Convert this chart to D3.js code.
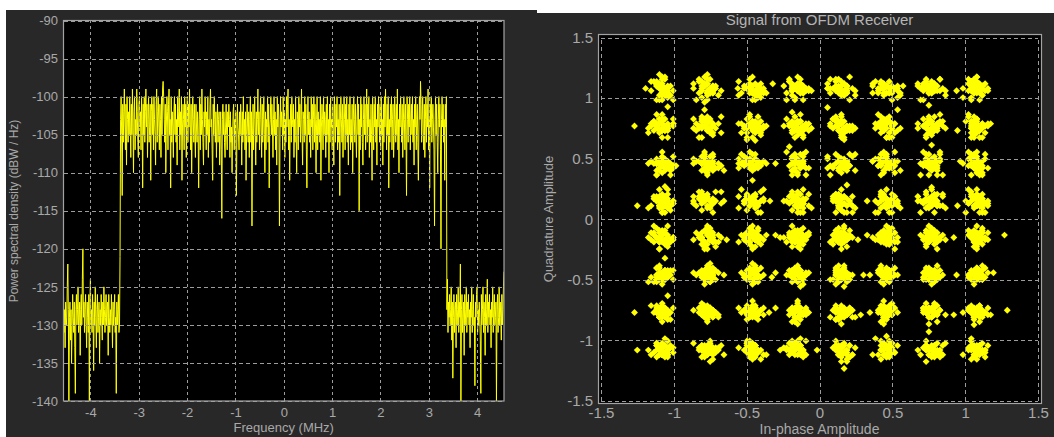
<!DOCTYPE html>
<html>
<head>
<meta charset="utf-8">
<script src="https://cdn.jsdelivr.net/npm/d3@7"></script>
<style>
  html, body { margin: 0; padding: 0; background: #ffffff; }
  svg { display: block; font-family: "Liberation Sans", Arial, sans-serif; }
</style>
</head>
<body>
<svg id="chart" width="1054" height="437"></svg>
<script>
// ---------- Spectrum analyzer: power spectral density (dBW/Hz) ----------
// Uniform frequency grid across the span: bins below the band, in the band, above the band
const freqSpanMHz = [-4.556, 4.556];
const psdLowBand = [
  -126, -131, -128, -133, -127, -129, -130, -125, -122, -128, -140, -129, -127, -132, -128, -135, -130, -126, -129, -131,
  -127, -133, -139, -128, -126, -130, -128, -125, -131, -129, -127, -134, -128, -126, -130, -124, -120, -129, -127, -131,
  -128, -126, -130, -133, -127, -129, -131, -126, -140, -127, -124, -130, -128, -131, -126, -129, -136, -127, -130, -125,
  -129, -133, -128, -126, -131, -129, -127, -135, -128, -130, -126, -129, -132, -127, -130, -125, -128, -131, -129, -126,
  -130, -128, -127, -134, -126, -129, -131, -128, -130, -126, -129, -133, -127, -130, -128, -126, -131, -129, -139, -127,
  -130, -128, -126, -131, -130, -121
];
const psdInBand = [
  -103, -100, -105, -113, -101, -106, -102, -99, -104, -107, -101, -109, -100, -103, -106, -102, -105, -100, -104, -108,
  -101, -105, -99, -104, -110, -102, -100, -107, -103, -105, -99, -102, -106, -108, -101, -100, -104, -102, -107, -100,
  -103, -112, -101, -105, -100, -106, -102, -99, -104, -101, -108, -103, -100, -106, -104, -101, -111, -102, -100, -105,
  -101, -107, -100, -103, -105, -109, -101, -99, -106, -102, -100, -104, -107, -101, -103, -108, -100, -105, -99, -98,
  -100, -103, -106, -101, -110, -104, -100, -102, -107, -101, -99, -105, -103, -112, -100, -106, -102, -104, -108, -102,
  -100, -105, -101, -106, -103, -109, -100, -104, -102, -99, -107, -102, -105, -100, -111, -104, -101, -103, -107, -100,
  -104, -101, -108, -102, -100, -106, -101, -104, -99, -103, -107, -101, -110, -104, -100, -103, -106, -101, -105, -108,
  -101, -104, -106, -102, -105, -112, -103, -100, -107, -101, -105, -99, -103, -106, -109, -102, -104, -100, -103, -107,
  -102, -105, -100, -108, -103, -106, -101, -99, -104, -103, -107, -111, -101, -105, -100, -103, -106, -102, -108, -104,
  -101, -106, -103, -102, -109, -105, -102, -107, -116, -103, -101, -105, -102, -106, -108, -104, -101, -105, -107, -102,
  -104, -101, -103, -108, -102, -106, -104, -110, -105, -102, -101, -107, -103, -105, -102, -113, -106, -101, -104, -105,
  -107, -102, -105, -101, -104, -109, -102, -106, -100, -105, -103, -107, -102, -111, -105, -101, -104, -106, -102, -108,
  -103, -100, -106, -102, -117, -105, -101, -107, -103, -100, -104, -109, -102, -106, -103, -99, -105, -102, -107, -103,
  -100, -104, -108, -101, -106, -103, -100, -105, -110, -102, -107, -103, -104, -100, -106, -101, -112, -104, -103, -100,
  -105, -101, -104, -108, -103, -100, -105, -102, -107, -103, -109, -100, -104, -101, -103, -117, -106, -100, -104, -102,
  -103, -107, -100, -105, -102, -108, -103, -106, -100, -104, -101, -99, -107, -103, -111, -104, -101, -106, -100, -103,
  -104, -101, -108, -103, -106, -100, -105, -110, -102, -103, -107, -100, -104, -101, -106, -103, -99, -105, -109, -102,
  -103, -106, -100, -105, -101, -107, -112, -103, -100, -105, -102, -106, -103, -108, -100, -104, -101, -107, -103, -100,
  -106, -101, -104, -110, -103, -100, -107, -102, -105, -103, -106, -100, -111, -104, -101, -103, -107, -100, -105, -102,
  -103, -108, -101, -106, -100, -105, -103, -110, -101, -106, -100, -104, -103, -107, -101, -105, -109, -100, -103, -106,
  -101, -104, -100, -107, -103, -106, -101, -113, -104, -100, -103, -106, -101, -108, -104, -100, -103, -107, -101, -105,
  -100, -106, -103, -109, -101, -105, -100, -107, -103, -106, -101, -110, -104, -100, -103, -106, -101, -105, -108, -103,
  -100, -105, -101, -115, -103, -107, -100, -104, -101, -106, -109, -103, -100, -105, -101, -107, -103, -99, -106, -101,
  -104, -100, -108, -103, -106, -101, -105, -111, -100, -103, -107, -101, -104, -100, -106, -103, -109, -101, -104, -100,
  -103, -106, -101, -107, -100, -105, -103, -109, -101, -106, -100, -104, -99, -103, -107, -101, -105, -100, -112, -103,
  -106, -101, -104, -100, -107, -103, -101, -108, -105, -100, -103, -106, -101, -105, -99, -107, -103, -110, -101, -104,
  -100, -103, -106, -101, -108, -104, -100, -103, -107, -101, -105, -113, -100, -103, -106, -101, -104, -100, -107, -103,
  -101, -105, -100, -106, -103, -109, -101, -104, -100, -107, -103, -101, -106, -111, -104, -100, -103, -98, -101, -106,
  -103, -100, -105, -107, -101, -108, -103, -100, -106, -101, -104, -99, -107, -103, -112, -101, -104, -100, -106, -103,
  -101, -104, -107, -117, -103, -100, -105, -101, -106, -110, -103, -100, -104, -101, -107, -120, -103, -100, -104, -101,
  -106, -103, -111, -101, -104, -100
];
const psdHighBand = [
  -128, -124, -131, -127, -129, -126, -130, -128, -125, -132, -127, -137, -129, -126, -131, -128, -127, -133, -126, -130,
  -128, -125, -131, -127, -129, -122, -140, -128, -126, -131, -129, -127, -134, -126, -130, -128, -125, -131, -127, -129,
  -126, -130, -128, -133, -127, -129, -125, -131, -128, -126, -130, -129, -138, -127, -129, -126, -125, -131, -128, -130,
  -127, -129, -132, -139, -126, -130, -128, -125, -131, -127, -129, -134, -126, -130, -128, -124, -131, -127, -129, -126,
  -130, -128, -133, -127, -129, -125, -131, -128, -126, -130, -129, -127, -140, -128, -126, -131, -129, -125, -130, -127,
  -129, -132, -126, -130, -128, -125, -123
];
const psdTicksX = [-4, -3, -2, -1, 0, 1, 2, 3, 4];
const psdTicksY = [-90, -95, -100, -105, -110, -115, -120, -125, -130, -135, -140];

// ---------- Constellation: 64-QAM symbols after the OFDM receiver ----------
const colLevels = [-1.08, -0.77, -0.46, -0.15, 0.15, 0.46, 0.77, 1.08];
const rowLevels = [1.08, 0.77, 0.46, 0.15, -0.15, -0.46, -0.77, -1.08];
const constTicks = [-1.5, -1, -0.5, 0, 0.5, 1, 1.5];
// Received symbols around each ideal point: every letter pair is one (I, Q) offset,
// counted in steps of offsetStep, with "m" meaning zero.
const offsetStep = 0.019;
const rxRowP108 = [
  "lnpjmkqhoiknmrljgmpnkolhnqmkjpilmonrkhmjqlonkpmhlsnjmkoeipmq" + "lmnkomlnkolmnmkonlmkmnolknmlokmnlomknmlo",
  "okmhlnjqpmkirlnmhojkpnmqlgkmonjplrmkihnqolmjkpmsnlhmokqjnlxm" + "nkmolnmkloknmlonmkolnmklomnklonmklmonkln",
  "jmolnkhpqmlnikmrojlmpknhqlomjnkmpilqnomkhjlnpmrkoimlnjqkmhpo" + "mlknomnlkmonlkmnolmkonlmknolmkmnlokmnlom",
  "nkmljqohpmknlimroknmjplhnqmokljpmnikrlmohnkjqmplonkmihqlnmdo" + "kolmnkmlonkmlnomklnomlkmnoklmnoklmnokmln",
  "mjnlokphqmkmnlrjimonkplqhmnjklomprnkiqmlhonjmpkqlmnoikjmrlhm" + "onmklmnolkmnolkmnlomknolmkmlonkmlnokmlnk",
  "kpmnljohqmnkiplmrjonmkqlhnpmjkolnmqirklmhonpjmlkqnomhkjlpmsn" + "mnolkmlnokmnlokmlnomkolnmkolmnkolmnklomn",
  "onlkmpjhqmnlkoimrjnmplkqhomnjlkmpqrlnmihkojnmlpqkmhnjolmkpvl" + "lnmokmnlkomnlkmonlkmnolkmnolmknolmkonlmk",
  "lmnkpojqhmnlkimrojmnplkhqmnojlkpmrqlnmhiknojmplqkmnhjolmkpnl" + "nmlkonmlkonmklonmklomnklomnlkomnlkmonlkm"
];
const rxRowP077 = [
  "mpknljohqmlnkrimjonpmkhlqnmojklpmrinkmhjolqnmpkljomhnkqpmlcm" + "kmnlolmkonmlnkomlkjnmolnkmlpmnokmlnmolkn",
  "qnjlmkoihplmnkrjomlpnkmqhlinojmkplrqmnkhlojmnpkqlmjhonikmplt" + "mlonkmnlkomlnjkmonlmkpnolmkonlmnklomnlkm",
  "nokljmpiqlmmhnkpoknjrmlqinmhjlpookmlqmijnnkhpllrmokgnmpjoqml" + "onlmkmolnkmlonkmnlomkjlnmokmnlpkomlnmkol",
  "kkmonlipjmqnlhomnrkjpmmllqoinjhmkopnrlmiqkjnlmohpmkslnjdmokm" + "lkmnomlknomklnmolkmnolkmnoplmknolmkmnlok",
  "molkinqmjpkolnmhrlnjkqpmlomingkpjlmrnhqkomlnjpimlnokmqhulnmk" + "mnlkomnlpkmonlkmolnkmjnolmkmnlokmnlomkln",
  "lplmnjkoqkmhinomrlpjkmnqlkohmnjrmpiljnkqommhlopnkjmlqtnhkmln" + "nolmkmlnokmnlkomlnkmonlkjmnoklmnolkmpnlm",
  "omnkljpnqmkhlomiprnklqmjoknmhlpojmnqkirlmkonjpmlhnqokmlvjmln" + "klmonmlkonmlknomlkmnolkmnlomknlpmoknmlon",
  "nlmmkopjlqnhmkiornmpkljqohmnlkpmjrqnlimokhmpnlkjqmonlhpmfknl" + "mnkolmknolmnklomnkmlonkmlonkmjlonkmnlomk"
];
const rxRowP046 = [
  "lmnoqkjmphlnokmirlnjpmqlkhomnkljqpmoinmrkhlnpjomqlkmnchmplmn" + "nmlkomnlkomplnkmolnkmlonkmlnomkjlnmokmln",
  "mnljpkoqinmhlrkmjnoplqmkinhmojlpnkqmrlmjhokplnmiqkonlmsjmlnk" + "lkomnmlonkmlnkomlnkmolnpkmlonmkjolnmkmln",
  "kolmqnjlpmhknoimlrjpnkmqolhmjnkoplrmiqnlkmhojpnqmlkonwmlimnk" + "omnlkmnolkmnlokmnlokpmnlomknlomjknlmonkm",
  "nmpkljoqmhlnkpirmojlnqkmpholnmkjlqpronmikhljmnopqklmemnkolm" + "mkonlmnkolmnkolmnkjolmnkolpmnlkomnlkmonl",
  "ljmnokqpmilnhkmorjlpnmkqilhonmjkplrqomnkihmlojpqnlmkonhpmnl" + "knlmomlnkomlknmolnkmolnkmjlonmkplnomkmln",
  "oknmljpimqkhnlomrjmkpnlqiohnmkjlprmoqnlikmhnjoplkqmnlrkmolm" + "nmoklmnlokmnlkomlnkmpolnkmolnkmjlonkmnlo",
  "mlpnkojmqhlnokimjrnplmkqohnlmjkoprlqmnihkmojlnpqkmlhnomuklm" + "lmnkomlnkpomnlkmolnkmjlonmkolnmkolnmkmol",
  "nmkljopqhmnlokmijrmpnlkqohmnjlkpmrlqnmoikhlmnjpoqkmlnhgnmkl" + "onklmnmolkmnlokmnlpkomnlkmjonlkmonlmkmno"
];
const rxRowP015 = [
  "mkljnopimhqlnkmjorlmnhpkqmlojnikmplrqmnkhjolmnpkqlmhojdkmln" + "mlnkonmlkopmnlkomnlkmjonlkmonlkmnolmkmnl",
  "onlmkpjqhlnmkiomrljnpmkqohlnmjkpolrqmnikhmlonjpqkmlnhosmklm" + "knmolmnklomnkjolmnkolmpnkolmnkolmnkmolnm",
  "lmkonjphqnlmkoirjmnplkqmohnljmkpqrolnmkihjmnolpqkmlnhomvnkm" + "nolkmmlnokmnlokpmnlkomnjlkomnlkmonlkmnlo",
  "nkmlojqphmnlkoimrjnpmlkqohnmjlkpormqlnkimhjolnmpqklmnhcmoln" + "lmkonmnlkomnlkmolpnkmolnkmjolnkmnlokmnlm",
  "kmnljoqhpmlnokmirjmnplqkohmnljkpmrqolnmikhjmnolpqklmnhotlmk" + "omnlkmlonkmnolkmnlokpmnlokmjnlomknlmokmn",
  "mlnkpojhqmnlokimrjnmplkqohlnmjkpmrqlonmkihjlmnopqkmlnhfmnlo" + "mkolnmnlkomnlkjomnlkomnlpkmonlkmnlomkmln",
  "nomlkjqphmlnokimrjnpmlkqhonmljkpmrqolnmkihjlnmopqkmlnhmslkn" + "nlmokmnlkomnlpkmonlkmnolkjmnolmknolmkmno",
  "lnmkojphqmnlokimjrmnplkqohmnljkpmrqlonmkihjlnmopqkmlnhfkomn" + "kmnolmlnkomnlkomnjlkmonlkmpnolkmnlomkmln"
];
const rxRowM015 = [
  "pkmlnjoiqmlhnkomjrlpmnkqiolhmnjkplorqmnkilhmjonpqlkmndlmomj" + "nmlokmnlkomnlkmojnlkmonlkmpnolkmnlomkmln",
  "noklmqpilhonrmkjnlmpqkiojnmrlioknpkmhlnqmjoolkjmqnmhtlkonmlp" + "lkmonmnlokmnlkomjnlkmonlpkmnolkmnlomkmnl",
  "lmjnokmpqlnikommpjinlqnlrnkkmhopjlnoljpmmrknhkolnnmilowmkmoq" + "monlkmlnkopmnlkomnlkjmonlkmnolkmnlomkmln",
  "monjklnplkqojmmipnnlkromloiknhmpqnkkoqlmmljonnhmojlpenmlplki" + "knlmomnlkomnlkpmonlkmnolkmjnolmknolmkmno",
  "kmnomkollqjjpnnmmhkponllqmmoiknqlnoiklmmppjlnklomjomslknnrlk" + "olnmkmnlkomnlkmojnlkmonlkmnolkpmnlomkmln",
  "olmnkknqlmpojlmjnnqklpkmmrooilnklnphmmkonjjnoqllmkhmnpqmfnml" + "mnlkomlnkomnlkmonjlkmonlkmnopkmnlomkmnlo",
  "nmlkoomlkppmnjlnjlmqokqnkinommlrplinomkmnpkllorlmnjmohnnumll" + "lmnokmnlkomnlkmonlkjmonlkmnolkmnlompkmln",
  "mkknnloplmoqmjknqljpnmmkooliminnlpmhplkmoonkjnmrlmqonlwnkmmj" + "nkmlomnlkomnlkmonlkmojnlkmnolkmnlomkpmnl"
];
const rxRowM046 = [
  "lnnkmmookllppmjjmnnlqokkomlqnnilmiomnomnqkkpllnmhjpolnodmmml" + "mlnkomnlkpomnlkmonlkmnolkjmnolmknolmkmno",
  "nmmkloolknnppkmolljnommqnjqnkmlinomlopimmnlkpoklnrmmhnoksmlo" + "onmlkmnlkomnlkmonlkmnjolkmnolkmpnlomkmln",
  "moomklnnlpplmknqjmloojmnqmkknolmmrolinnmmilnppkmnkoojlmntllm" + "kmnolmnlkomnlkmonplkmnolkmnjolmknolmkmno",
  "knmonllkompnmmjonklpokmjqnklnmlomqoilnimnnlkpmkonhmpjmolennm" + "nlkmomnlkomnlkmonlkmnolkpmnolmkjnolmkmnl",
  "onlmmkkpnlpmmolnjknnomlqkiqmnlmnkoljomnpmmiknqollmpkmnnhumml" + "lomnkmnlkomnlkmonlkmnolkmnojlmknolmkpmno",
  "mmnkkoollnmppmlknnjommonkqnlliqmmolmonnjkmpplnmkoolljnnmgmmo" + "mknolmnlkomnlkmonlkjmnolkmnolmkpnolmkmnl",
  "lnomnkmmkponpllmmonjjnoqmlkknnloqmmioknmlpmnkoolnlmmjkonvmlm" + "nmolkmnlkomnlkmonlkmnolkmnolmknojlmkmnpo",
  "nlmolmokknnmpplkmnoqjlnmmokklnqnomlimpnklommoknnjmplmloosnkm" + "lknmomnlkomnlkmonlkmnolkmnolmpknolmkjmno"
];
const rxRowM077 = [
  "mnlkomnlknmppmlonkjmmqolknnnmlqolkmionnmkplmmoojlnipnmcmmnlo" + "omlnkmnlkomnlkmonlkmnolkmnolmknolmkmnopj",
  "nommkloknnlppmmjonlnmkkqnmoljomnqlmloklnnnmikponllmopmhnmlqk" + "mnklomnlkomnlkjmonlkmnolkmnolmknolmkmpno",
  "mlnokmkpjnlmqonlkmimpnolkjmrnmolkmhonplmnkqlomjnmkolpnsmklmo" + "knomlmnlkomnlkmonlkmnolkmpnolmknojlmkmno",
  "lonmkmpnjlkoqmmnlimoknplmhnomkljpnmrkolmnmkiponlmqjnmolkeonm" + "nlomkmnlkomnlkmonlkmnjolkmnolmknolmpkmno",
  "nmkolnmpkjomlnqkmnoliknmpoljnmrkmolnmhkponmlqnkjmolnmkpmtlnk" + "lmkonmnlkomnlkmonlkmnolkmnolmkjnolmkmnpo",
  "kmnlonmjpolkmnqmlokinmnpljkomnlrmkoqnmlhjnopmlkmnoknlpgmnmlo" + "onlkmmnlkomnlkmonlkpmnolkmnolmknolmkjmno",
  "mnlkompnlojmkqnmlnoikmnplomkjnrlmokmnqlhnpomkmlnjokmpnlmulkm" + "mkolnmnlkomnlkmonlkmnolkmnjolmknolmkmnop",
  "onmlkmnpjolnkmqomlnikonmpmlkjnomrlnkmoqlhmnpokmnljomkpnmxnlm" + "nmlokmnlkomnlkmojnlkmnolkmnolmknolpmkmno"
];
const rxRowM108 = [
  "dmlnomkpnlojmkqnmlonikmpnlmokjnrmlokmnqlhmpnoklmnjomkplnmkoq" + "lnkomnmlkomnlkmonlkmnolkmnolmknojlmkmnpo",
  "onkmljpmnqlkomnhlmrokjnmplqnkmoilmnpokmljnqmkonlhpmkmnlosknm" + "kmonlmnlkomnlkmonlkmpnolkmnolmknolmkjmno",
  "kplmnomjlnkqomlnmikpnoljmmrknolmqkhnmplonkjmlqomnkpilmnoklwm" + "mlnokmnlkomnlkmonjlkmnolkmnolmknolmkpmno",
  "nmkqolmnjpklomnrlmkoinmqlpnkjmolhnmkpqlonmjklnompkimlntmokln" + "nolmkmnlkomnlkmonlkmnolpkmnolmknojlmkmno",
  "lomkmnpjnlkqomnlmhokrnmlpjqkmnoilmknpolmqkjnmlohnpkmlmnekomn" + "lkmnomnlkomnlkmonlkmnolkmjnolmknolmkmnpo",
  "mnplkomjnqlokmnlirmkopnlmjkqnmolhkmnplqomknjlmopkinlmsnkmol" + "omknlmnlkomnlkmonlpkmnolkmnolmknolmjkmno",
  "oklnmmpjlnqkomnlhmkorpnlmjkqnmolikmnplqomknjlmopkhnmlunlkomn" + "mnolkmnlkomnlkmojnlkmnolkmnolmknolmkpmno",
  "mlnkompjnlkqomnlmikrnopmljkqmnolhkmnplqomkjnlmopkinmlxmnkoln" + "knlomnmlkomnlkmonlkmnolkmnolpmknolmkjmno"
];
const rxRows = [rxRowP108, rxRowP077, rxRowP046, rxRowP015, rxRowM015, rxRowM046, rxRowM077, rxRowM108];

// ---------- shared styling ----------
const panelFill = "#282828";
const labelFill = "#a9a9a9";
const frameStroke = "#a3a3a3";
const gridStroke = "#9c9c9c";
const traceColor = "#ffff00";

const svg = d3.select("#chart");

// two scope windows
svg.append("rect").attr("x", 6).attr("y", 10).attr("width", 531).attr("height", 427).attr("fill", panelFill);
svg.append("rect").attr("x", 537).attr("y", 13).attr("width", 517).attr("height", 424).attr("fill", panelFill);

const defs = svg.append("defs");

// ================= Spectrum panel =================
const psdBox = { left: 63.5, right: 504, top: 20.5, bottom: 401 };
const xFreq = d3.scaleLinear().domain(freqSpanMHz).range([psdBox.left, psdBox.right]);
const yPsd = d3.scaleLinear().domain([-140, -90]).range([psdBox.bottom, psdBox.top]);

svg.append("rect")
  .attr("x", psdBox.left).attr("y", psdBox.top)
  .attr("width", psdBox.right - psdBox.left).attr("height", psdBox.bottom - psdBox.top)
  .attr("fill", "#000000");

defs.append("clipPath").attr("id", "psdClip").append("rect")
  .attr("x", psdBox.left).attr("y", psdBox.top)
  .attr("width", psdBox.right - psdBox.left).attr("height", psdBox.bottom - psdBox.top);

const psdDb = psdLowBand.concat(psdInBand, psdHighBand);
const fStep = (freqSpanMHz[1] - freqSpanMHz[0]) / (psdDb.length - 1);
const psdPoints = psdDb.map((v, k) => ({ f: freqSpanMHz[0] + k * fStep, v }));

svg.append("path")
  .datum(psdPoints)
  .attr("clip-path", "url(#psdClip)")
  .attr("fill", "none")
  .attr("stroke", traceColor)
  .attr("stroke-width", 1)
  .attr("stroke-linejoin", "miter")
  .attr("d", d3.line().x(d => xFreq(d.f)).y(d => yPsd(d.v)));

// grid + tick labels
const psdYAxis = svg.append("g")
  .attr("transform", `translate(${psdBox.left},0)`)
  .call(d3.axisLeft(yPsd).tickValues(psdTicksY).tickFormat(d => String(d))
    .tickSizeInner(-(psdBox.right - psdBox.left)).tickSizeOuter(0).tickPadding(5.5));
const psdXAxis = svg.append("g")
  .attr("transform", `translate(0,${psdBox.bottom})`)
  .call(d3.axisBottom(xFreq).tickValues(psdTicksX).tickFormat(d => String(d))
    .tickSizeInner(-(psdBox.bottom - psdBox.top)).tickSizeOuter(0).tickPadding(6.5));

[psdYAxis, psdXAxis].forEach(g => {
  g.select(".domain").remove();
  g.selectAll(".tick line").attr("stroke", gridStroke).attr("stroke-width", 1)
    .attr("shape-rendering", "crispEdges");
  g.selectAll(".tick text").attr("fill", labelFill).attr("font-size", 13)
    .attr("font-family", "'Liberation Sans', Arial, sans-serif");
});
psdYAxis.selectAll(".tick line").attr("stroke-dasharray", "4,3");
psdXAxis.selectAll(".tick line").attr("stroke-dasharray", "3,3");

svg.append("rect")
  .attr("x", psdBox.left).attr("y", psdBox.top)
  .attr("width", psdBox.right - psdBox.left).attr("height", psdBox.bottom - psdBox.top)
  .attr("fill", "none").attr("stroke", frameStroke).attr("stroke-width", 1.2);

svg.append("text")
  .attr("x", (psdBox.left + psdBox.right) / 2).attr("y", 432)
  .attr("text-anchor", "middle").attr("fill", labelFill).attr("font-size", 13)
  .text("Frequency (MHz)");

svg.append("text")
  .attr("transform", "translate(18,211) rotate(-90)")
  .attr("text-anchor", "middle").attr("fill", labelFill).attr("font-size", 12)
  .text("Power spectral density (dBW / Hz)");

// ================= Constellation panel =================
const conBox = { left: 601, right: 1038, top: 37.5, bottom: 401 };
const xI = d3.scaleLinear().domain([-1.5, 1.5]).range([conBox.left, conBox.right]);
const yQ = d3.scaleLinear().domain([-1.5, 1.5]).range([conBox.bottom, conBox.top]);

svg.append("rect")
  .attr("x", conBox.left - 2.5).attr("y", conBox.top - 3)
  .attr("width", conBox.right - conBox.left + 6).attr("height", conBox.bottom - conBox.top + 5.5)
  .attr("fill", "#000000");

defs.append("clipPath").attr("id", "conClip").append("rect")
  .attr("x", conBox.left - 2.5).attr("y", conBox.top - 3)
  .attr("width", conBox.right - conBox.left + 6).attr("height", conBox.bottom - conBox.top + 5.5);

const rxPoints = [];
rxRows.forEach((row, r) => {
  row.forEach((s, c) => {
    for (let k = 0; k + 1 < s.length; k += 2) {
      rxPoints.push({
        i: colLevels[c] + (s.charCodeAt(k) - 109) * offsetStep,
        q: rowLevels[r] + (s.charCodeAt(k + 1) - 109) * offsetStep
      });
    }
  });
});

const diamondMarker = {
  draw(ctx, size) {
    const r = Math.sqrt(size / 2);
    ctx.moveTo(0, -r); ctx.lineTo(r, 0); ctx.lineTo(0, r); ctx.lineTo(-r, 0); ctx.closePath();
  }
};
const markerPath = d3.symbol().type(diamondMarker).size(24)();

svg.append("g").attr("clip-path", "url(#conClip)")
  .selectAll("path").data(rxPoints).join("path")
  .attr("d", markerPath)
  .attr("transform", d => `translate(${xI(d.i)},${yQ(d.q)})`)
  .attr("fill", traceColor);

const conYAxis = svg.append("g")
  .attr("transform", `translate(${conBox.left},0)`)
  .call(d3.axisLeft(yQ).tickValues(constTicks).tickFormat(d => String(d))
    .tickSizeInner(-(conBox.right - conBox.left)).tickSizeOuter(0).tickPadding(8));
const conXAxis = svg.append("g")
  .attr("transform", `translate(0,${conBox.bottom})`)
  .call(d3.axisBottom(xI).tickValues(constTicks).tickFormat(d => String(d))
    .tickSizeInner(-(conBox.bottom - conBox.top)).tickSizeOuter(0).tickPadding(6));

[conYAxis, conXAxis].forEach(g => {
  g.select(".domain").remove();
  g.selectAll(".tick line").attr("stroke", gridStroke).attr("stroke-width", 1)
    .attr("stroke-dasharray", "4,3").attr("shape-rendering", "crispEdges");
  g.selectAll(".tick text").attr("fill", labelFill).attr("font-size", 15)
    .attr("font-family", "'Liberation Sans', Arial, sans-serif");
});

svg.append("rect")
  .attr("x", conBox.left - 2.5).attr("y", conBox.top - 3)
  .attr("width", conBox.right - conBox.left + 6).attr("height", conBox.bottom - conBox.top + 5.5)
  .attr("fill", "none").attr("stroke", frameStroke).attr("stroke-width", 1.2);

svg.append("text")
  .attr("x", (conBox.left + conBox.right) / 2).attr("y", 25)
  .attr("text-anchor", "middle").attr("fill", "#b4b4b4").attr("font-size", 15)
  .text("Signal from OFDM Receiver");

svg.append("text")
  .attr("x", (conBox.left + conBox.right) / 2).attr("y", 434)
  .attr("text-anchor", "middle").attr("fill", labelFill).attr("font-size", 14)
  .text("In-phase Amplitude");

svg.append("text")
  .attr("transform", "translate(553,219) rotate(-90)")
  .attr("text-anchor", "middle").attr("fill", labelFill).attr("font-size", 13)
  .text("Quadrature Amplitude");
</script>
</body>
</html>
